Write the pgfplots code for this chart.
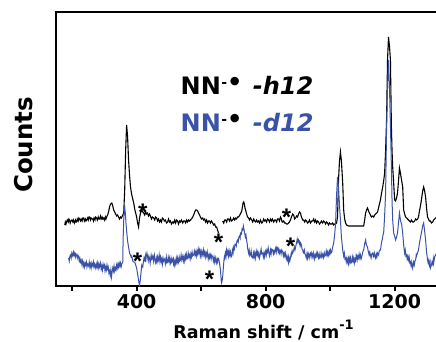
\documentclass[border=0pt]{standalone}
\usepackage{pgfplots}
\pgfplotsset{compat=1.18}
\usepackage{fontspec}
\setmainfont{DejaVu Sans}
\newfontfamily\starfont{Liberation Sans}
\definecolor{specblue}{RGB}{58,82,168}
\tikzset{astr/.style={anchor=base, inner sep=0pt, yshift=-14pt, font=\starfont\bfseries\fontsize{24pt}{24pt}\selectfont}}
\begin{document}
\begin{tikzpicture}
\begin{axis}[
  scale only axis, width=403.125pt, height=274pt,
  xmin=150, xmax=1400, ymin=55, ymax=329,
  axis line style={line width=1.8pt},
  xtick={400,800,1200}, minor xtick={200,600,1000,1400},
  ytick=\empty,
  xtick pos=lower, tick align=outside,
  major tick length=4.5pt, minor tick length=4.5pt,
  every tick/.style={black, line width=1.8pt},
  /pgf/number format/assume math mode=true,
  /pgf/number format/1000 sep={},
  xticklabel style={font=\bfseries\fontsize{19pt}{22pt}\selectfont, yshift=-0.5pt},
  xlabel={Raman shift / cm\raisebox{9pt}{\fontsize{13pt}{13pt}\selectfont -1}},
  xlabel style={font=\bfseries\fontsize{17.5pt}{20pt}\selectfont, at={(axis description cs:0.5148,-0.190)}, anchor=base},
  ylabel={Counts},
  ylabel style={font=\bfseries\fontsize{24.5pt}{28pt}\selectfont, at={(axis description cs:-0.0571,0.515)}, anchor=base},
  unbounded coords=jump,
]
\addplot[black, line width=1.1pt] coordinates {
(177,116)(179,119)(181,117)(183,119)(185,121)(188,119)(190,122)(192,121)(194,118)(196,120)(199,121)(202,119)(204,121)(207,118)(210,121)(212,119)(214,119)(216,122)(219,120)(221,123)(223,122)(226,120)(228,122)(231,120)(233,123)(236,123)(238,120)(241,122)(243,120)(245,121)(248,123)(250,121)(252,124)(254,124)(257,121)(259,123)(262,122)(264,122)(266,120)(268,123)(271,121)(273,124)(276,123)(278,121)(281,124)(283,122)(285,122)(288,125)(290,122)(293,124)(295,122)(298,123)(300,121)(303,124)(305,122)(307,124)(310,126)(313,129)(316,134)(319,137)(323,138)(326,135)(329,131)(332,129)(335,127)(338,125)(341,126)(344,124)(347,122)(350,124)(353,123)(357,126)(360,128)(363,151)(366,191)(369,216)(372,204)(375,181)(378,166)(381,154)(385,146)(388,142)(391,138)(394,132)(397,128)(400,124)(403,118)(406,114)(409,123)(412,128)(416,131)(419,129)(422,128)(425,126)(428,129)(431,127)(434,128)(437,125)(440,127)(443,125)(446,122)(449,124)(453,123)(456,121)(459,124)(462,123)(465,120)(468,122)(471,119)(474,121)(477,119)(480,123)(483,122)(486,120)(489,121)(493,118)(496,119)(499,122)(502,119)(505,120)(508,117)(512,119)(515,118)(518,121)(521,118)(524,121)(527,120)(530,117)(533,120)(536,119)(539,121)(543,118)(546,120)(549,120)(552,118)(555,121)(558,119)(561,121)(564,120)(567,121)(570,122)(574,124)(577,126)(580,129)(583,131)(586,131)(589,130)(592,128)(595,126)(598,124)(601,122)(605,123)(608,121)(611,122)(614,119)(617,121)(620,118)(623,120)(626,120)(629,118)(632,120)(636,118)(639,116)(642,117)(645,114)(648,114)(651,111)(654,108)
(660,nan)
(667,120)(670,118)(673,121)(676,121)(679,119)(682,122)(685,122)(688,120)(691,123)(694,120)(698,121)(701,123)(704,121)(707,123)(710,122)(713,124)(716,124)(720,126)(723,128)(726,130)(728,134)(730,138)(732,139)(734,137)(736,133)(738,131)(741,127)(744,124)(747,123)(750,121)(753,123)(757,121)(760,119)(763,122)(766,120)(769,119)(772,121)(775,119)(778,120)(781,118)(784,121)(788,118)(791,119)(794,122)(797,120)(800,121)(803,119)(806,122)(809,121)(812,119)(815,122)(818,120)(821,122)(825,119)(828,121)(831,121)(834,119)(837,122)(840,122)(843,120)(846,124)(849,122)(851,119)(853,119)(856,120)(859,118)(862,118)(865,117)(868,117)(871,118)(874,119)(877,121)(880,124)(884,127)(887,126)(890,122)(893,123)(896,125)(899,124)(902,127)(905,129)(908,128)(911,124)(915,121)(918,121)(921,119)(924,121)(927,120)(930,118)(933,119)(936,121)(939,118)(943,120)(946,120)(949,122)(952,119)(955,121)(958,118)(961,120)(964,119)(967,117)(970,118)(973,120)(977,118)(980,120)(983,119)(986,117)(989,119)(992,118)(995,116)(998,118)(1001,117)(1005,117)(1008,118)(1011,116)(1014,117)(1017,117)(1020,118)(1023,124)(1026,161)(1029,180)(1032,189)(1035,180)(1039,158)(1042,131)(1045,122)(1048,118)(1051,116)(1057,115)(1104,115)(1107,121)(1110,128)(1113,131)(1116,133)(1119,130)(1122,128)(1125,126)(1128,124)(1132,125)(1135,124)(1138,126)(1141,127)(1144,128)(1147,129)(1150,133)(1153,137)(1156,141)(1159,147)(1163,154)(1166,160)(1169,168)(1172,190)(1175,221)(1178,281)(1181,304)(1184,295)(1187,281)(1190,214)(1192,190)(1194,174)(1197,158)(1200,141)(1203,140)(1206,143)(1209,148)(1212,160)(1215,173)(1218,168)(1222,160)(1225,154)(1228,131)(1231,127)(1234,124)(1237,123)(1240,122)(1243,121)(1246,120)(1249,119)(1252,121)(1256,119)(1259,119)(1262,120)(1265,122)(1268,121)(1271,122)(1274,124)(1277,130)(1280,135)(1283,141)(1287,150)(1290,154)(1293,150)(1296,144)(1299,133)(1302,124)(1305,122)(1308,120)(1311,120)(1314,118)(1318,119)(1321,121)(1324,122)(1327,123)(1330,124)
};
\addplot[specblue, line width=1.0pt] coordinates {
(189,83)(191,80)(193,85)(195,86)(197,83)(199,88)(202,85)(204,89)(206,86)(208,88)(210,84)(212,87)(214,86)(216,83)(218,86)(220,84)(222,80)(224,83)(226,79)(228,81)(230,77)(232,80)(234,75)(236,78)(238,74)(240,78)(242,76)(244,79)(246,74)(248,77)(251,75)(253,79)(255,74)(257,77)(259,73)(261,78)(264,75)(266,79)(268,74)(270,77)(273,73)(275,77)(277,74)(279,78)(281,73)(283,77)(285,74)(288,78)(290,72)(292,75)(294,71)(296,77)(298,74)(300,76)(302,70)(304,74)(306,71)(308,76)(310,72)(312,74)(314,68)(316,70)(318,66)(320,71)(322,64)(324,69)(326,73)(328,70)(330,75)(332,70)(334,73)(336,71)(338,76)(340,73)(342,77)(344,74)(346,78)(348,75)(350,78)(352,74)(354,77)(357,79)(358,100)(360,121)(362,132)(363,134)(365,128)(367,118)(369,110)(372,100)(375,94)(378,88)(381,86)(383,84)(385,85)(388,80)(391,79)(394,79)(397,76)(400,73)(403,67)(406,61)(408,57)(409,56)(411,60)(412,63)(414,70)(416,76)(419,74)(421,79)(423,83)(425,81)(427,85)(428,79)(430,85)(432,88)(434,84)(436,80)(438,85)(440,83)(442,78)(443,81)(445,86)(447,82)(450,85)(452,80)(453,83)(455,86)(457,80)(459,78)(461,83)(463,79)(465,84)(467,80)(468,81)(470,86)(472,80)(474,84)(476,79)(478,82)(480,77)(482,83)(484,80)(487,82)(489,77)(490,79)(492,84)(494,78)(496,79)(498,84)(500,80)(502,83)(504,77)(505,78)(507,83)(509,79)(512,82)(514,78)(515,81)(517,76)(519,80)(521,77)(523,83)(525,79)(527,83)(529,78)(530,79)(532,84)(534,80)(536,81)(538,86)(540,81)(543,85)(545,80)(547,84)(549,80)(551,85)(552,83)(554,87)(556,82)(558,83)(560,88)(562,84)(564,86)(566,82)(568,87)(570,84)(572,89)(574,85)(577,86)(579,90)(581,86)(583,89)(585,85)(587,90)(589,87)(591,92)(593,88)(595,91)(597,86)(598,89)(600,85)(602,90)(605,86)(607,91)(609,86)(611,89)(613,84)(615,88)(617,85)(619,89)(620,86)(622,82)(624,86)(626,83)(628,87)(629,86)(631,82)(633,86)(636,84)(638,80)(640,84)(642,79)(644,83)(645,81)(647,78)(649,82)(651,79)(653,83)(654,83)(657,78)(660,71)(662,62)(663,58)(665,60)(667,65)(669,74)(670,78)(672,84)(673,83)(675,88)(677,84)(679,91)(681,87)(683,90)(685,85)(687,90)(689,86)(691,89)(693,84)(695,85)(697,91)(699,88)(701,94)(703,92)(705,97)(707,97)(709,95)(711,100)(713,101)(715,99)(717,104)(719,105)(721,103)(722,108)(725,107)(727,112)(729,111)(731,115)(732,113)(734,110)(735,108)(737,104)(739,106)(741,101)(743,97)(744,93)(746,90)(747,88)(749,91)(751,85)(753,86)(755,90)(757,84)(760,83)(762,88)(764,84)(766,88)(768,83)(769,86)(771,90)(773,86)(775,89)(777,85)(779,88)(781,83)(783,86)(784,88)(786,92)(788,87)(791,88)(793,84)(795,88)(797,84)(799,89)(800,90)(802,86)(804,91)(806,89)(808,93)(810,88)(812,85)(814,89)(815,91)(817,87)(819,92)(822,91)(824,87)(826,90)(828,88)(830,92)(831,93)(833,89)(835,94)(837,93)(839,89)(841,92)(843,88)(845,91)(846,91)(848,87)(850,91)(853,89)(855,85)(857,88)(859,85)(861,88)(862,86)(864,82)(866,85)(868,81)(870,84)(871,79)(873,83)(875,80)(877,83)(879,87)(880,86)(882,90)(884,88)(887,91)(889,94)(891,91)(893,94)(895,97)(896,98)(898,102)(900,99)(902,101)(904,98)(905,99)(907,95)(909,98)(911,96)(913,92)(915,91)(917,88)(918,88)(920,91)(922,87)(924,86)(926,83)(928,87)(930,83)(932,88)(933,87)(935,83)(937,87)(939,88)(941,84)(943,88)(946,84)(948,88)(949,86)(951,82)(953,86)(955,84)(957,88)(959,85)(961,88)(963,84)(964,83)(966,87)(968,83)(970,84)(972,88)(974,84)(977,87)(979,83)(980,84)(982,88)(984,85)(986,86)(988,90)(990,86)(992,89)(994,85)(995,86)(997,90)(999,87)(1001,91)(1003,88)(1005,89)(1008,94)(1011,98)(1014,106)(1017,118)(1020,146)(1023,164)(1026,154)(1029,136)(1032,121)(1035,104)(1039,91)(1042,85)(1044,88)(1046,82)(1048,83)(1050,79)(1052,83)(1054,79)(1056,82)(1057,78)(1059,83)(1061,79)(1063,83)(1065,78)(1067,79)(1069,84)(1071,80)(1073,83)(1075,78)(1077,82)(1079,80)(1081,86)(1082,85)(1084,81)(1086,85)(1088,83)(1090,87)(1092,83)(1094,86)(1096,82)(1097,83)(1100,87)(1102,90)(1104,91)(1107,97)(1110,101)(1112,97)(1114,95)(1116,94)(1118,90)(1119,89)(1121,86)(1123,89)(1125,86)(1127,83)(1129,87)(1132,88)(1134,84)(1135,84)(1137,88)(1139,85)(1141,83)(1143,87)(1145,84)(1147,88)(1150,86)(1153,91)(1156,91)(1158,95)(1159,98)(1162,102)(1164,106)(1166,108)(1169,125)(1172,148)(1175,211)(1178,254)(1181,281)(1184,254)(1187,216)(1190,174)(1192,140)(1194,121)(1197,108)(1200,105)(1203,101)(1206,104)(1209,108)(1212,118)(1215,128)(1218,121)(1222,116)(1225,108)(1228,96)(1231,88)(1233,91)(1235,85)(1237,86)(1239,82)(1241,85)(1243,81)(1245,84)(1247,78)(1249,79)(1251,75)(1253,79)(1256,73)(1258,77)(1259,79)(1261,76)(1263,80)(1265,81)(1267,86)(1268,85)(1271,88)(1274,91)(1277,98)(1280,103)(1283,108)(1287,115)(1290,118)(1293,110)(1296,101)(1299,89)(1301,84)(1302,81)(1304,78)(1306,81)(1308,76)(1310,79)(1311,73)(1314,76)(1316,79)(1318,77)(1320,82)(1321,78)(1324,84)(1327,86)(1330,88)
};
% asterisks
\node[astr] at (axis cs:419,135) {*};
\node[astr] at (axis cs:654,105) {*};
\node[astr] at (axis cs:865,130) {*};
\node[astr] at (axis cs:403,86) {*};
\node[astr] at (axis cs:626,68) {*};
\node[astr] at (axis cs:877,101) {*};
% legend text
\node[anchor=base west, inner sep=0pt, font=\bfseries\fontsize{24pt}{24pt}\selectfont] at (axis cs:536,247)
  {NN\hspace{0.5pt}\raisebox{7pt}{\fontsize{14pt}{14pt}\selectfont -}\raisebox{3.4pt}{•}};
\node[anchor=base west, inner sep=0pt, font=\bfseries\itshape\fontsize{24pt}{24pt}\selectfont] at (axis cs:760,247) {-h12};
\node[anchor=base west, inner sep=0pt, font=\bfseries\fontsize{24pt}{24pt}\selectfont] at (axis cs:536,210)
  {\textcolor{specblue}{NN}\hspace{0.5pt}\raisebox{7pt}{\fontsize{14pt}{14pt}\selectfont -}\raisebox{3.4pt}{•}};
\node[anchor=base west, inner sep=0pt, text=specblue, font=\bfseries\itshape\fontsize{24pt}{24pt}\selectfont] at (axis cs:760,210) {-d12};
\end{axis}
\pgfresetboundingbox
\useasboundingbox (-56pt,-55pt) rectangle (380pt,286pt);
\end{tikzpicture}
\end{document}
